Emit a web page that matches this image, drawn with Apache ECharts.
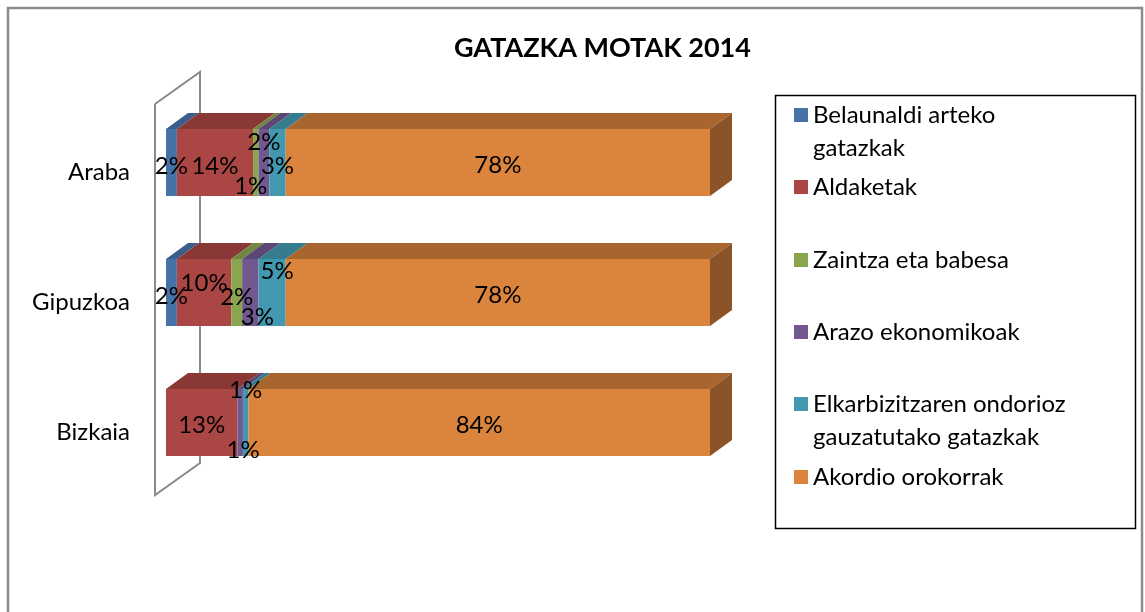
<!DOCTYPE html>
<html>
<head>
<meta charset="utf-8">
<script src="https://cdn.jsdelivr.net/npm/echarts@6/dist/echarts.min.js"></script>
<style>
  html, body { margin: 0; padding: 0; background: #fff; }
  #chart { width: 1145px; height: 612px; }
</style>
</head>
<body>
<div id="chart"></div>
<script>
// datuak
var categories = ["Araba", "Gipuzkoa", "Bizkaia"];
var seriesNames = [
  "Belaunaldi arteko\ngatazkak",
  "Aldaketak",
  "Zaintza eta babesa",
  "Arazo ekonomikoak",
  "Elkarbizitzaren ondorioz\ngauzatutako gatazkak",
  "Akordio orokorrak"
];
var belaunaldi = [2, 2, 0];
var aldaketak = [14, 10, 13];
var zaintza = [1, 2, 0];
var arazo = [2, 3, 1];
var elkarbizitza = [3, 5, 1];
var akordio = [78, 78, 84];
var values = [belaunaldi, aldaketak, zaintza, arazo, elkarbizitza, akordio];

// colours: front, top, side
var colors = [
  ["#4572A7", "#395E8B", "#2E4C70"],
  ["#AA4643", "#8A3836", "#6F2D2B"],
  ["#89A54E", "#6F8740", "#5A6D33"],
  ["#71588F", "#5C4775", "#4A395E"],
  ["#4198AF", "#357C8F", "#2B6474"],
  ["#DB843D", "#A9652E", "#8B5428"]
];
// label nudges (px) like the excel auto placement
var labelShift = [
  [[0, 4], [0, 4], [0, 0]],
  [[0, 4], [0, -9], [0, 3]],
  [[-5, 24], [0, 5], [0, 0]],
  [[0, -20], [7, 25], [3, 28]],
  [[0, 4], [5, -21], [0, -32]],
  [[0, 3], [0, 3], [0, 3]]
];
var legendIconY = [115, 187, 260, 332, 404, 477];

var DX = 22, DY = -16;
var FONT = "Lato";

var totals = categories.map(function (c, ci) {
  var s = 0;
  values.forEach(function (arr) { s += arr[ci]; });
  return s;
});

function buildData(si) {
  return categories.map(function (c, ci) {
    var start = 0;
    for (var k = 0; k < si; k++) start += values[k][ci];
    var end = start + values[si][ci];
    return [values[si][ci], ci, start / totals[ci] * 100, end / totals[ci] * 100];
  });
}

var myChart = echarts.init(document.getElementById("chart"));

var series = values.map(function (arr, si) {
  return {
    name: seriesNames[si],
    type: "custom",
    data: buildData(si),
    encode: { x: [2, 3], y: 1 },
    renderItem: function (params, api) {
      var v = api.value(0);
      if (!v) return null;
      var cat = api.value(1);
      var p0 = api.coord([api.value(2), cat]);
      var p1 = api.coord([api.value(3), cat]);
      var h = api.size([0, 1])[1] * 0.515;
      var yt = p0[1] - h / 2;
      var yb = p0[1] + h / 2;
      var c = colors[si];
      var children = [
        {
          type: "polygon",
          shape: { points: [[p0[0], yt], [p1[0], yt], [p1[0] + DX, yt + DY], [p0[0] + DX, yt + DY]] },
          style: { fill: c[1] }
        },
        {
          type: "rect",
          shape: { x: p0[0], y: yt, width: p1[0] - p0[0], height: h },
          style: { fill: c[0] }
        }
      ];
      if (si === values.length - 1) {
        children.push({
          type: "polygon",
          shape: { points: [[p1[0], yt], [p1[0] + DX, yt + DY], [p1[0] + DX, yb + DY], [p1[0], yb]] },
          style: { fill: c[2] }
        });
      }
      var sh = labelShift[si][cat];
      children.push({
        type: "text",
        z2: 100,
        style: {
          text: v + "%",
          x: (p0[0] + p1[0]) / 2 + sh[0],
          y: p0[1] + sh[1],
          align: "center",
          verticalAlign: "middle",
          fill: "#000",
          font: "24px " + FONT
        }
      });
      return { type: "group", children: children };
    }
  };
});

// one legend per entry so the spacing matches the original box
// two-line entries get a tall icon (square on top) so the square sits on the first line
var legends = seriesNames.map(function (name, si) {
  var twoLines = name.indexOf("\n") >= 0;
  return {
    data: [name],
    orient: "vertical",
    left: 794,
    top: legendIconY[si] - 16.5,
    padding: 0,
    icon: twoLines ? "path://M0,0H14V14H0Z M0,47H14" : "rect",
    itemWidth: 14,
    itemHeight: twoLines ? 47 : 14,
    selectedMode: false,
    textStyle: {
      fontFamily: FONT,
      fontSize: 24,
      lineHeight: 33,
      color: "#000"
    }
  };
});

var option = {
  animation: false,
  color: colors.map(function (c) { return c[0]; }),
  title: {
    text: "GATAZKA MOTAK 2014",
    left: 449,
    top: 30,
    textStyle: { fontFamily: FONT, fontWeight: "bold", fontSize: 27, color: "#000" }
  },
  legend: legends,
  grid: { left: 166, width: 544, top: 97.5, height: 390 },
  xAxis: {
    type: "value",
    min: 0,
    max: 100,
    show: false
  },
  yAxis: {
    type: "category",
    data: categories,
    inverse: true,
    axisLine: { show: false },
    axisTick: { show: false },
    axisLabel: {
      margin: 36,
      fontFamily: FONT,
      fontSize: 24,
      lineHeight: 20,
      verticalAlign: "top",
      color: "#000"
    }
  },
  graphic: [
    {
      type: "rect",
      z: 0,
      shape: { x: 8, y: 8, width: 1134, height: 650 },
      style: { fill: null, stroke: "#8c8c8c", lineWidth: 2.5 }
    },
    {
      type: "polyline",
      z: 0,
      shape: { points: [[155, 104], [200, 72], [200, 463], [155, 495], [155, 104]] },
      style: { fill: null, stroke: "#8a8a8a", lineWidth: 2 }
    },
    {
      type: "rect",
      z: 0,
      shape: { x: 775.5, y: 95.5, width: 360, height: 433 },
      style: { fill: null, stroke: "#000", lineWidth: 1.5 }
    }
  ],
  series: series
};

myChart.setOption(option);
</script>
</body>
</html>
